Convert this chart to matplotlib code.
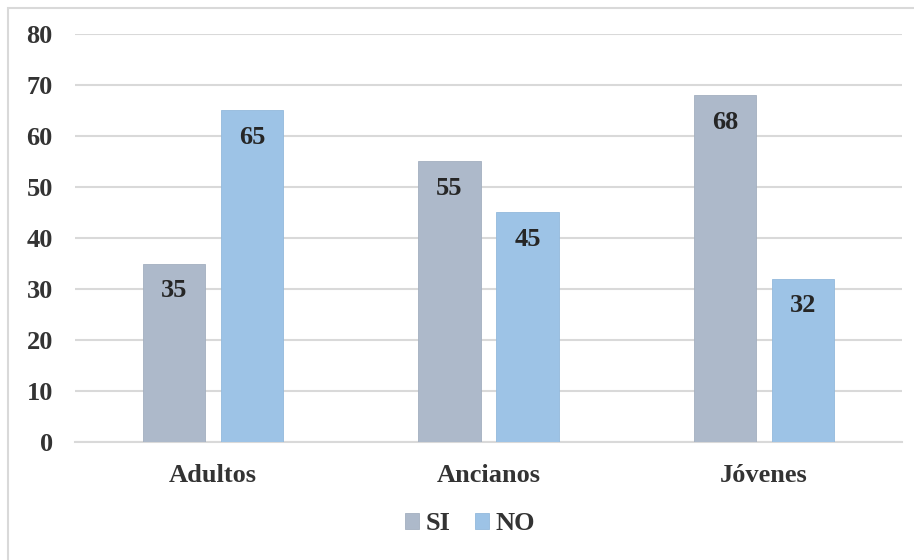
import numpy as np
import matplotlib.pyplot as plt
from matplotlib.patches import Rectangle

categories = ['Adultos', 'Ancianos', 'Jóvenes']
si_values = [35, 55, 68]
no_values = [65, 45, 32]
series_names = ['SI', 'NO']

plt.rcParams['font.family'] = ['Liberation Serif', 'DejaVu Serif']
plt.rcParams['font.weight'] = 'bold'

fig = plt.figure(figsize=(9.14, 5.6), dpi=100)
# outer frame like the spreadsheet chart area
fig.patches.append(Rectangle((8/914, -0.01), 1.0, 1 - 8/560 + 0.01, transform=fig.transFigure,
                             fill=False, edgecolor='#D9D9D9', linewidth=1.5))

ax = fig.add_axes([75/914, 1 - 442/560, 827/914, 408/560])

x = np.arange(len(categories))
w = 0.225
gap = 0.058
off = (w + gap) / 2
b1 = ax.bar(x - off, si_values, w, color='#ADB9CA', edgecolor='#A3AFC0', linewidth=0.6, label=series_names[0], zorder=3)
b2 = ax.bar(x + off, no_values, w, color='#9DC3E6', edgecolor='#93B9DC', linewidth=0.6, label=series_names[1], zorder=3)

fs = 19
for bars in (b1, b2):
    for r in bars:
        ax.annotate('%d' % r.get_height(), (r.get_x() + r.get_width() / 2, r.get_height()),
                    xytext=(0, -27), textcoords='offset pixels', ha='center', va='center',
                    fontsize=fs, fontweight='bold', color='#262626', zorder=4)

ax.set_xlim(-0.5, 2.5)
ax.set_ylim(0, 80)
ax.set_yticks(range(0, 81, 10))
ax.set_xticks(x)
ax.set_xticklabels(categories)
ax.yaxis.grid(True, color='#D9D9D9', linewidth=1.5, zorder=0)
ax.set_axisbelow(True)
for s in ['top', 'right', 'left']:
    ax.spines[s].set_visible(False)
ax.spines['bottom'].set_color('#D9D9D9')
ax.spines['bottom'].set_linewidth(1.5)
ax.tick_params(axis='both', length=0, labelsize=fs)
ax.tick_params(axis='y', pad=16)
ax.tick_params(axis='x', pad=16)
for t in ax.get_xticklabels() + ax.get_yticklabels():
    t.set_fontweight('bold')
    t.set_color('#333333')

leg = fig.legend(loc='center', bbox_to_anchor=(470/914, 1 - 524/560), ncol=2, frameon=False,
                 fontsize=fs, handlelength=0.55, handleheight=0.55, handletextpad=0.25, columnspacing=0.9)
for t in leg.get_texts():
    t.set_color('#333333')

fig.savefig('out.png', dpi=100)
